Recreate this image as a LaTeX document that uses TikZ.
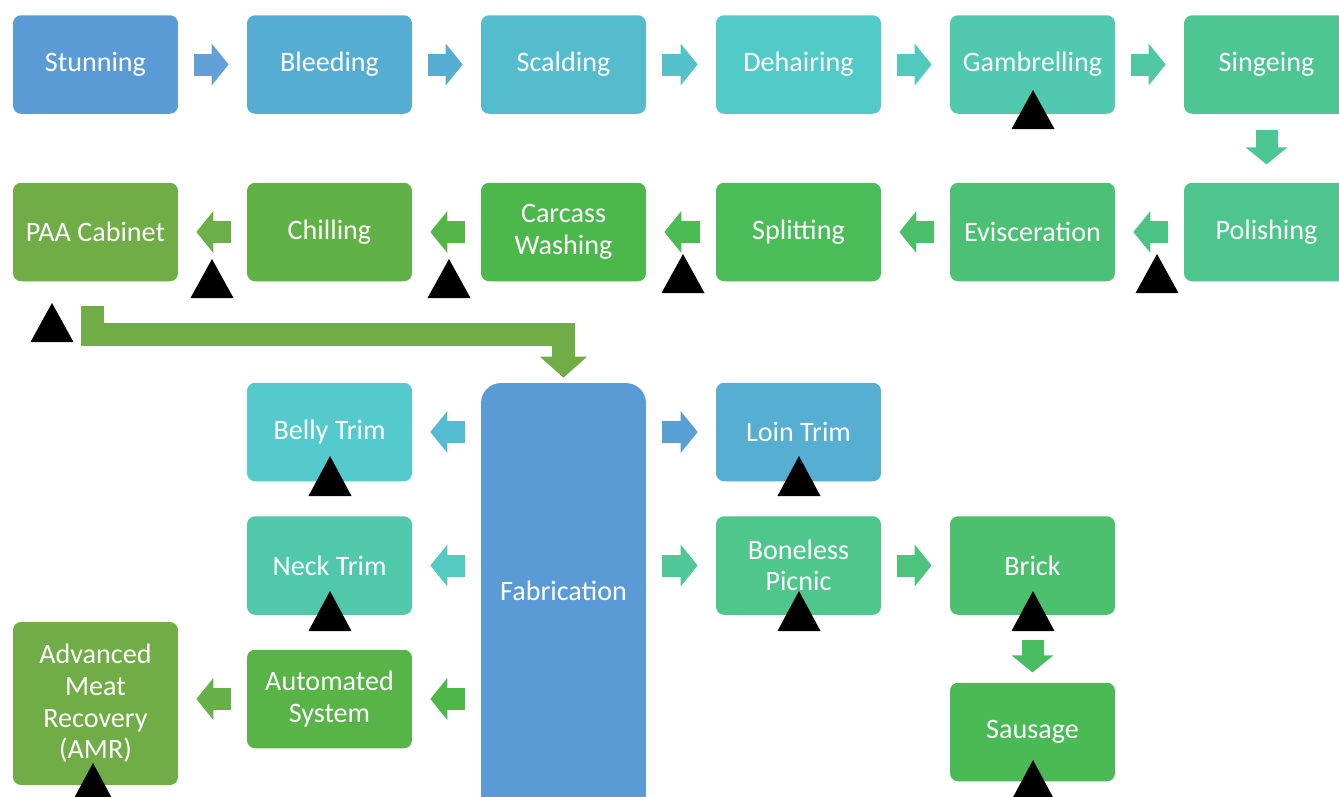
\documentclass[tikz,border=0pt]{standalone}
\usepackage{fontspec}
\setmainfont{Carlito}
\usetikzlibrary{arrows.meta}

\definecolor{stunC}{HTML}{5B9BD5}
\definecolor{bleedC}{HTML}{55ADD3}
\definecolor{scaldC}{HTML}{54BCCD}
\definecolor{dehairC}{HTML}{52CBC8}
\definecolor{gambC}{HTML}{50C9AE}
\definecolor{singeC}{HTML}{4EC694}
\definecolor{polishC}{HTML}{4DC58C}
\definecolor{evisC}{HTML}{4CC176}
\definecolor{splitC}{HTML}{4ABC58}
\definecolor{washC}{HTML}{4CB84B}
\definecolor{chillC}{HTML}{60B246}
\definecolor{paaC}{HTML}{70AD47}
\definecolor{loinC}{HTML}{56AED2}
\definecolor{bellyC}{HTML}{54CACD}
\definecolor{neckC}{HTML}{50C9AA}
\definecolor{picnicC}{HTML}{4EC68C}
\definecolor{brickC}{HTML}{4CC06E}
\definecolor{sausC}{HTML}{4ABA55}
\definecolor{autoC}{HTML}{58B446}

\tikzset{
	box/.style={rectangle, rounded corners=0.16cm, minimum width=3.3cm, minimum height=1.97cm,
		inner sep=0pt, align=center, text=white, font=\fontsize{16}{18}\selectfont},
	blk/.style={line width=0.44cm, -{Triangle[length=0.34cm,width=0.82cm]},
		shorten <=0.32cm, shorten >=0.36cm},
}

\begin{document}
\begin{tikzpicture}[x=0.02cm, y=-0.02cm]
		\useasboundingbox (0,0) rectangle (1339,796);
		\clip (0,0) rectangle (1339,796);

		\node[box, fill=stunC] (stun) at (95.5,64.5) {Stunning};
		\node[box, fill=bleedC] (bleed) at (329.5,64.5) {Bleeding};
		\node[box, fill=scaldC] (scald) at (563.5,64.5) {Scalding};
		\node[box, fill=dehairC] (dehair) at (798.5,64.5) {Dehairing};
		\node[box, fill=gambC] (gamb) at (1032.5,64.5) {Gambrelling};
		\node[box, fill=singeC] (singe) at (1266.5,64.5) {Singeing};

		\node[box, fill=polishC] (polish) at (1266.5,232) {Polishing};
		\node[box, fill=evisC] (evis) at (1032.5,232) {Evisceration};
		\node[box, fill=splitC] (split) at (798.5,232) {Splitting};
		\node[box, fill=washC] (wash) at (563.5,232) {Carcass\\Washing};
		\node[box, fill=chillC] (chill) at (329.5,232) {Chilling};
		\node[box, fill=paaC] (paa) at (95.5,232) {PAA Cabinet};

		\node[box, fill=stunC, minimum height=8.74cm, text depth=0.44cm, rounded corners=0.4cm] (fab) at (563.5,601.5) {Fabrication};
		\node[box, fill=bellyC] (belly) at (329.5,432) {Belly Trim};
		\node[box, fill=loinC] (loin) at (798.5,432) {Loin Trim};
		\node[box, fill=neckC] (neck) at (329.5,565.5) {Neck Trim};
		\node[box, fill=picnicC] (picnic) at (798.5,565.5) {Boneless\\Picnic};
		\node[box, fill=brickC] (brick) at (1032.5,565.5) {Brick};
		\node[box, fill=autoC] (auto) at (329.5,699) {Automated\\System};
		\node[box, fill=paaC, minimum height=3.26cm] (amr) at (95.5,703.5) {Advanced\\Meat\\Recovery\\(AMR)};
		\node[box, fill=sausC] (saus) at (1032.5,732) {Sausage};

		% first row
		\draw[blk, draw=stunC!95!white] (stun) -- (bleed);
		\draw[blk, draw=bleedC] (bleed) -- (scald);
		\draw[blk, draw=scaldC!60!dehairC] (scald) -- (dehair);
		\draw[blk, draw=dehairC!60!gambC] (dehair) -- (gamb);
		\draw[blk, draw=gambC!50!singeC] (gamb) -- (singe);
		\draw[blk, draw=singeC] (singe) -- (polish);

		% second row
		\draw[blk, draw=polishC!60!evisC] (polish) -- (evis);
		\draw[blk, draw=evisC!60!splitC] (evis) -- (split);
		\draw[blk, draw=splitC!70!washC] (split) -- (wash);
		\draw[blk, draw=washC!60!chillC] (wash) -- (chill);
		\draw[blk, draw=chillC!40!paaC] (chill) -- (paa);
		\draw[line width=0.46cm, draw=paaC, -{Triangle[length=0.42cm,width=0.92cm]},
			shorten <=0.48cm, shorten >=0.1cm] ([xshift=-0.06cm]paa.south) -- ++(0,53) -| (fab.north);

		% fabrication
		\draw[blk, draw=bleedC!50!bellyC] (belly.east -| fab.west) -- (belly.east);
		\draw[blk, draw=stunC!80!loinC] (loin.west -| fab.east) -- (loin.west);
		\draw[blk, draw=bellyC!60!neckC] (neck.east -| fab.west) -- (neck.east);
		\draw[blk, draw=neckC!40!picnicC] (picnic.west -| fab.east) -- (picnic.west);
		\draw[blk, draw=washC!80!autoC] (auto.east -| fab.west) -- (auto.east);
		\draw[blk, draw=autoC!40!paaC] (auto.west) -- (auto.west -| amr.east);
		\draw[blk, draw=picnicC!50!brickC] (picnic) -- (brick);
		\draw[blk, draw=brickC!50!sausC, shorten <=0.5cm, shorten >=0.2cm] (brick) -- (saus);

		% hazard marks
		\fill (1033,90) -- ++(21.5,39) -- ++(-43,0) -- cycle;
		\fill (1157,254) -- ++(21.5,39) -- ++(-43,0) -- cycle;
		\fill (683,254) -- ++(21.5,39) -- ++(-43,0) -- cycle;
		\fill (449,259) -- ++(21.5,39) -- ++(-43,0) -- cycle;
		\fill (212,259) -- ++(21.5,39) -- ++(-43,0) -- cycle;
		\fill (52,303) -- ++(21.5,39) -- ++(-43,0) -- cycle;
		\fill (330,456) -- ++(21.5,40) -- ++(-43,0) -- cycle;
		\fill (799,456) -- ++(21.5,40) -- ++(-43,0) -- cycle;
		\fill (330,591) -- ++(21.5,40) -- ++(-43,0) -- cycle;
		\fill (799,591) -- ++(21.5,40) -- ++(-43,0) -- cycle;
		\fill (1033,591) -- ++(21.5,40) -- ++(-43,0) -- cycle;
		\fill (93,763) -- ++(21.5,40) -- ++(-43,0) -- cycle;
		\fill (1033,760) -- ++(21.5,40) -- ++(-43,0) -- cycle;
	\end{tikzpicture}
\end{document}
